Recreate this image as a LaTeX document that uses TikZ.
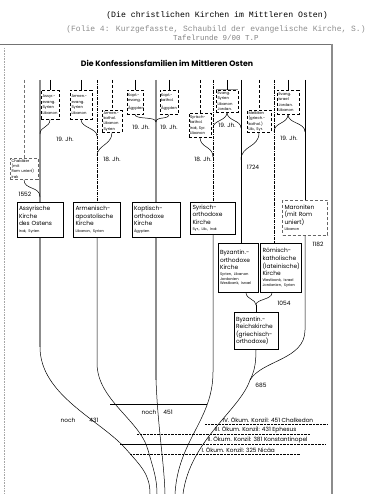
\documentclass[tikz,border=0pt]{standalone}
\usepackage{fontspec}
\newfontfamily\pop{Poppins}
\newfontfamily\tmono{Liberation Mono}
\newcommand{\sm}{\fontsize{3.7}{4.6}\selectfont}
\begin{document}
\begin{tikzpicture}[x=1pt,y=-1pt,
  mbox/.style={draw, line width=0.5pt, inner sep=2pt, align=left, anchor=north, font=\pop\fontsize{5.9}{7.6}\selectfont},
  sbox/.style={draw, densely dashed, line width=0.35pt, inner sep=1.2pt, align=left, anchor=north, font=\pop\fontsize{3.8}{5.4}\selectfont},
  lbl/.style={font=\pop\fontsize{5.9}{6.5}\selectfont, inner sep=0.5pt},
  ln/.style={line width=0.5pt},
  gln/.style={line width=1.1pt, black!45},
  cath/.style={line width=0.5pt, densely dashed},
  ddot/.style={line width=0.6pt, dash pattern=on 3pt off 1pt on 0.6pt off 1pt},
  council/.style={font=\pop\fontsize{5.8}{6.5}\selectfont, inner sep=0.5pt, anchor=south west},
  cline/.style={line width=0.4pt, densely dotted}
]
\useasboundingbox (0,0) rectangle (381,494);
% header
\node[font=\tmono\fontsize{8.2}{9}\selectfont] (h1) at (217,15) {(Die christlichen Kirchen im Mittleren Osten)};
\node[font=\tmono\fontsize{8}{9}\selectfont, text=black!45] (h2) at (216,29) {(Folie 4: Kurzgefasste, Schaubild der evangelische Kirche, S.)};
\node[font=\tmono\fontsize{7.5}{9}\selectfont, text=black!50] (h3) at (216,38) {Tafelrunde 9/00 T.P};
% frame
\draw[black!55, line width=0.9pt] (0,44) -- (332,44);
\draw[black!45, line width=1.2pt] (332,44) -- (332,494);
\draw[black!35, densely dotted, line width=0.6pt] (4,48) -- (4,494);
\node[font=\pop\bfseries\fontsize{7.8}{9}\selectfont] (title) at (167,63) {Die Konfessionsfamilien im Mittleren Osten};

% small boxes
\node[sbox, text width=25, minimum height=20, draw=black!60] (chald) at (24,158) {Chaldäer\\(mit\\\mbox{Rom uniert)}\\Irak};
\node[sbox, text width=15, minimum height=29] (assev) at (50,90) {Assyr.-\\evang.\\Syrien\\Libanon};
\node[sbox, text width=19, minimum height=29] (armev) at (81,90) {Armen.-\\evang.\\Syrien\\Libanon};
\node[sbox, text width=17, minimum height=22] (armkath) at (112,110) {Armen.-\\kathol.\\Libanon\\Syrien};
\node[sbox, text width=14, minimum height=24] (koptev) at (135,90) {Kopt.-\\evang.\\[2pt]Ägypten};
\node[sbox, text width=16, minimum height=24] (koptkath) at (169,90) {Kopt.-\\kathol.\\[2pt]Ägypten};
\node[sbox, text width=20, minimum height=24] (syrkath) at (200,113) {Syrisch-\\kathol.\\\mbox{Irak, Syr.}\\Libanon};
\node[sbox, text width=19, minimum height=22] (evsyr) at (227,90) {Evang.\\Syrien\\Libanon\\Jordan.};
\node[sbox, text width=21, minimum height=21] (melk) at (259,110) {Melkiten\\(griech.-\\kathol.)\\\mbox{Lib., Syr.}};
\node[sbox, text width=19, minimum height=24] (evisr) at (288,90) {Evang.\\Israel\\Jordan.\\Libanon};
\draw[black!45, line width=1pt] (evsyr.north west) -- (evsyr.north east);

% main boxes
\node[mbox, text width=42, minimum height=35] (assyr) at (40,202) {Assyrische\\Kirche\\\mbox{des Ostens}\\[-1pt]\mbox{\sm Irak, Syrien}};
\node[mbox, text width=43, minimum height=35] (armen) at (97,202) {Armenisch-\\apostolische\\Kirche\\[-1pt]\mbox{\sm Libanon, Syrien}};
\node[mbox, text width=44, minimum height=35] (kopt) at (156,202) {Koptisch-\\orthodoxe\\Kirche\\[-1pt]\mbox{\sm Ägypten}};
\node[mbox, text width=41, minimum height=32] (syr) at (213,202) {Syrisch-\\orthodoxe\\Kirche\\[-1pt]\mbox{\sm Syr., Lib., Irak}};
\node[mbox, text width=41, minimum height=35, densely dashed, draw=black!60] (maron) at (305,200) {Maroniten\\\mbox{(mit Rom}\\uniert)\\[-1pt]\mbox{\sm Libanon}};
\node[mbox, text width=36, minimum height=49] (byz) at (238,243) {Byzantin.-\\orthodoxe\\Kirche\\[-1.5pt]\mbox{\sm Syrien, Libanon}\\[-3pt]\mbox{\sm Jordanien}\\[-3pt]\mbox{\sm Westbank, Israel}};
\node[mbox, text width=37, minimum height=49, line width=0.8pt] (roman) at (281,243) {Römisch-\\katholische\\(lateinische)\\Kirche\\[-1.5pt]\mbox{\sm Westbank, Israel}\\[-3pt]\mbox{\sm Jordanien, Syrien}};
\node[mbox, text width=40, minimum height=37] (reich) at (256,312) {Byzantin.-\\Reichskirche\\\mbox{(griechisch-}\\orthodoxe)};

% top coordinates
\coordinate (tChald) at (24,80);
\coordinate (tAssyr) at (40,80);
\coordinate (tAssev) at (50,80);
\coordinate (tArmev) at (81,80);
\coordinate (tArmen) at (97,80);
\coordinate (tArmkath) at (112,80);
\coordinate (tKoptev) at (135,80);
\coordinate (tKopt) at (156,80);
\coordinate (tKoptkath) at (169,80);
\coordinate (tSyrkath) at (200,80);
\coordinate (tSyr) at (213,80);
\coordinate (tEvsyr) at (227,80);
\coordinate (tByz) at (241,80);
\coordinate (tMelk) at (259,80);
\coordinate (tRom) at (274,80);
\coordinate (tEvisr) at (288,80);
\coordinate (tMar) at (305,80);

% junction coordinates
\coordinate (jA) at (40,134);
\coordinate (jB) at (97,136);
\coordinate (jC) at (97,156);
\coordinate (jD) at (156,122);
\coordinate (jE) at (213,157);
\coordinate (jF1) at (213,128);
\coordinate (jF2) at (241,128);
\coordinate (jG) at (241,160);
\coordinate (jH1) at (274,132);
\coordinate (jH2) at (305,132);
\coordinate (j1552) at (40,197);
\coordinate (j1054) at (256,305);
\coordinate (j685) at (250,380);

% vertical top lines
\draw[cath, black!55] (tChald) -- (chald.north);
\draw[gln] (tAssyr) -- (assyr.north);
\draw[ln] (tAssev) -- (assev.north);
\draw[ln] (tArmev) -- (armev.north);
\draw[ddot] (tArmen) -- (armen.north);
\draw[cath] (tArmkath) -- (armkath.north);
\draw[ln] (tKoptev) -- (koptev.north);
\draw[gln] (tKopt) -- (kopt.north);
\draw[ln] (tKoptkath) -- (koptkath.north);
\draw[cath] (tSyrkath) -- (syrkath.north);
\draw[ddot] (tSyr) -- (syr.north);
\draw[ln] (tEvsyr) -- (evsyr.north);
\draw[ln] (tByz) -- (tByz |- byz.north);
\draw[cath] (tMelk) -- (melk.north);
\draw[ddot] (tRom) -- (tRom |- roman.north);
\draw[ln] (tEvisr) -- (evisr.north);
\draw[ln] (tMar) -- (maron.north);

% branch curves
\draw[ln] (chald.south) .. controls (24,190) and (40,186) .. (j1552);
\draw[ln] (assev.south) .. controls (50,128) and (40,126) .. (jA);
\draw[ln] (armev.south) .. controls (81,128) and (97,128) .. (jB);
\draw[ln] (armkath.south) .. controls (112,145) and (97,145) .. (jC);
\draw[ln] (koptev.south) .. controls (135,120) and (156,116) .. (jD);
\draw[ln] (koptkath.south) .. controls (169,120) and (156,116) .. (jD);
\draw[ln] (syrkath.south) .. controls (200,148) and (213,146) .. (jE);
\draw[ln] (evsyr.south) .. controls (227,121) and (213,120) .. (jF1);
\draw[ln] (evsyr.south) .. controls (227,121) and (241,120) .. (jF2);
\draw[ln] (melk.south) .. controls (259,148) and (241,145) .. (jG);
\draw[ln] (evisr.south) .. controls (288,124) and (274,122) .. (jH1);
\draw[ln] (evisr.south) .. controls (288,124) and (305,122) .. (jH2);

% lines below boxes
\coordinate (aB) at (40,347);
\coordinate (rB) at (97,363);
\coordinate (kB) at (156,380);
\coordinate (sB) at (213,372);
\coordinate (mB) at (305,330);
\draw[gln] (assyr.south) -- (aB);
\draw[ln] (aB) .. controls (40,395) and (100,420) .. (125,448) .. controls (142,467) and (150,475) .. (150,494);
\draw[ln] (armen.south) -- (rB) .. controls (97,400) and (140,420) .. (148,450) .. controls (153,468) and (157,478) .. (157,494);
\draw[gln] (kopt.south) -- (kB);
\draw[ln] (kB) .. controls (158,430) and (164,460) .. (165,494);
\draw[ln] (syr.south) -- (sB) .. controls (213,420) and (178,440) .. (175,494);
\draw[ln] (maron.south) -- (mB) .. controls (305,360) and (262,360) .. (j685);
\draw[ln] ([xshift=8pt]byz.south) .. controls +(0,7) and +(0,-6) .. (j1054);
\draw[ln] ([xshift=-9pt]roman.south) .. controls +(0,7) and +(0,-6) .. (j1054);
\draw[ln] (j1054) -- (reich.north);
\draw[ln] (reich.south) .. controls (256,365) and (254,372) .. (j685);
\draw[ln] (j685) .. controls (240,410) and (190,440) .. (183,494);

% council lines
\draw[ln] (110,404) -- (207,404);
\draw[ln] (120,444) -- (200,444);
\draw[cline] (200,444) -- (325,444);
\draw[cline] (205,424) -- (328,424);
\draw[cline] (137,434) -- (310,434);
\draw[cline] (130,454) -- (300,454);
\node[council] (c4) at (222,423.5) {IV. Ökum. Konzil: 451 Chalkedon};
\node[council] (c3) at (214,433.5) {III. Ökum. Konzil: 431 Ephesus};
\node[council] (c2) at (207,443.5) {II. Ökum. Konzil: 381 Konstantinopel};
\node[council] (c1) at (201,453.5) {I. Ökum. Konzil: 325 Nicäa};

% labels
\node[lbl] (l19a) at (65,139) {19. Jh.};
\node[lbl] (l19b) at (141,127) {19. Jh.};
\node[lbl] (l19c) at (169,127) {19. Jh.};
\node[lbl] (l19d) at (227,125) {19. Jh.};
\node[lbl] (l19e) at (289,138) {19. Jh.};
\node[lbl] (l18a) at (112,159) {18. Jh.};
\node[lbl] (l18b) at (203,159) {18. Jh.};
\node[lbl] (l1724) at (253,167) {1724};
\node[lbl] (l1552) at (25,194) {1552};
\node[lbl] (l1182) at (318,244) {1182};
\node[lbl] (l1054) at (284,303) {1054};
\node[lbl] (l685) at (261,385) {685};
\node[lbl] (n431a) at (68,420) {noch};
\node[lbl] (n431b) at (94,420) {431};
\node[lbl] (n451a) at (149,412) {noch};
\node[lbl] (n451b) at (168,412) {451};
\end{tikzpicture}
\end{document}
